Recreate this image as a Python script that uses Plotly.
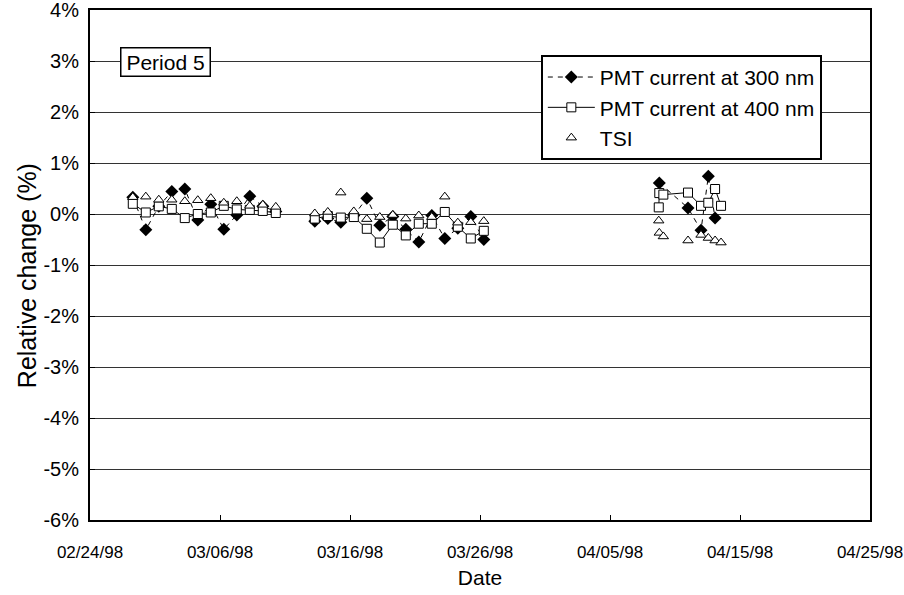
import plotly.graph_objects as go

# ---- data ----
c1_dates = ["1998-02-27 07:00", "1998-02-28 07:00", "1998-03-01 07:00", "1998-03-02 07:00",
            "1998-03-03 07:00", "1998-03-04 07:00", "1998-03-05 07:00", "1998-03-06 07:00",
            "1998-03-07 07:00", "1998-03-08 07:00", "1998-03-09 07:00", "1998-03-10 07:00"]
c1_pmt300 = [0.33, -0.31, 0.15, 0.44, 0.49, -0.12, 0.19, -0.30, -0.02, 0.35, 0.15, 0.05]
c1_pmt400 = [0.20, 0.03, 0.15, 0.10, -0.08, 0.00, 0.03, 0.16, 0.09, 0.08, 0.06, 0.02]
c1_tsi = [0.33, 0.34, 0.28, 0.28, 0.25, 0.27, 0.31, 0.22, 0.25, 0.16, 0.18, 0.14]

c2_dates = ["1998-03-13 07:00", "1998-03-14 07:00", "1998-03-15 07:00", "1998-03-16 07:00",
            "1998-03-17 07:00", "1998-03-18 07:00", "1998-03-19 07:00", "1998-03-20 07:00",
            "1998-03-21 07:00", "1998-03-22 07:00", "1998-03-23 07:00", "1998-03-24 07:00",
            "1998-03-25 07:00", "1998-03-26 07:00"]
c2_pmt300 = [-0.14, -0.09, -0.16, -0.03, 0.31, -0.22, -0.05, -0.30, -0.55, -0.03, -0.48, -0.28, -0.05, -0.50]
c2_pmt400 = [-0.09, -0.04, -0.07, -0.06, -0.29, -0.56, -0.21, -0.42, -0.19, -0.19, 0.04, -0.25, -0.48, -0.33]
c2_tsi = [0.01, 0.04, 0.42, 0.05, -0.10, -0.06, -0.02, -0.09, -0.03, -0.06, 0.34, -0.17, -0.16, -0.14]

c3_dates = ["1998-04-08 18:00", "1998-04-08 19:00", "1998-04-09 02:30", "1998-04-11 00:00",
            "1998-04-12 00:00", "1998-04-12 13:30", "1998-04-13 02:00", "1998-04-13 13:00"]
c3_pmt300 = [None, 0.61, None, 0.12, -0.32, 0.74, -0.08, None]
c3_pmt400 = [0.13, 0.41, 0.38, 0.42, 0.16, 0.22, 0.49, 0.16]
c3_tsi = [-0.13, -0.37, -0.44, -0.52, -0.41, -0.47, -0.52, -0.56]

y_ticks = [4, 3, 2, 1, 0, -1, -2, -3, -4, -5, -6]
y_ticktext = [f"{v}%" for v in y_ticks]
x_ticks = ["1998-02-24", "1998-03-06", "1998-03-16", "1998-03-26", "1998-04-05", "1998-04-15", "1998-04-25"]
x_ticktext = ["02/24/98", "03/06/98", "03/16/98", "03/26/98", "04/05/98", "04/15/98", "04/25/98"]


def join_clusters(clusters):
    xs, ys = [], []
    for i, (d, v) in enumerate(clusters):
        if i > 0:
            xs.append(None)
            ys.append(None)
        for di, vi in zip(d, v):
            if vi is not None:
                xs.append(di)
                ys.append(vi)
    return xs, ys


x300, y300 = join_clusters([(c1_dates, c1_pmt300), (c2_dates, c2_pmt300), (c3_dates, c3_pmt300)])
x400, y400 = join_clusters([(c1_dates, c1_pmt400), (c2_dates, c2_pmt400), (c3_dates, c3_pmt400)])
xtsi, ytsi = join_clusters([(c1_dates, c1_tsi), (c2_dates, c2_tsi), (c3_dates, c3_tsi)])

FONT = "Liberation Sans, Arial, sans-serif"

fig = go.Figure()
fig.add_trace(go.Scatter(
    x=x300, y=y300, name="PMT current at 300 nm", mode="lines+markers",
    line=dict(color="black", width=1, dash="5px,5px"),
    marker=dict(symbol="diamond", size=10, color="black"),
    connectgaps=False))
fig.add_trace(go.Scatter(
    x=x400, y=y400, name="PMT current at 400 nm", mode="lines+markers",
    line=dict(color="black", width=1),
    marker=dict(symbol="square", size=9, color="white", line=dict(color="black", width=1)),
    connectgaps=False))
fig.add_trace(go.Scatter(
    x=xtsi, y=ytsi, name="TSI", mode="markers",
    marker=dict(symbol="triangle-up", size=9, color="white", line=dict(color="black", width=1))))

fig.update_layout(
    width=904, height=595,
    margin=dict(l=90, r=34, t=10, b=75),
    paper_bgcolor="white", plot_bgcolor="white",
    font=dict(family=FONT, color="black", size=20),
    showlegend=True,
    legend=dict(x=0.578, y=0.912, xanchor="left", yanchor="top",
                bgcolor="white", bordercolor="black", borderwidth=2,
                font=dict(size=21, family=FONT), tracegroupgap=0,
                itemwidth=47),
    xaxis=dict(
        type="date", range=["1998-02-24", "1998-04-25"],
        tickvals=x_ticks, ticktext=x_ticktext,
        ticks="inside", ticklen=5, tickcolor="black", tickwidth=1,
        showgrid=False, zeroline=False, automargin=False,
        showline=True, linecolor="black", linewidth=2, mirror=True,
        tickfont=dict(size=17, family=FONT),
        ticklabelstandoff=16, ticklabeloverflow="allow",
        title=dict(text="Date", font=dict(size=21, family=FONT), standoff=9),
    ),
    yaxis=dict(
        range=[-6, 4], tickvals=y_ticks, ticktext=y_ticktext,
        ticks="inside", ticklen=5, tickcolor="black", tickwidth=1,
        showgrid=True, gridcolor="#333333", gridwidth=1,
        zeroline=False, automargin=False,
        showline=True, linecolor="black", linewidth=2, mirror=True,
        tickfont=dict(size=20, family=FONT),
        ticklabelstandoff=5, ticklabeloverflow="allow",
    ),
)

fig.add_annotation(
    x=-0.0808, y=0.48, xref="paper", yref="paper", text="Relative change (%)",
    textangle=-90, xanchor="center", yanchor="middle", showarrow=False,
    font=dict(size=25, family=FONT, color="black"),
)

fig.add_annotation(
    x=0.0974, y=0.899, xref="paper", yref="paper", text="Period 5",
    xanchor="center", yanchor="middle",
    showarrow=False, font=dict(size=21, family=FONT, color="black"),
    bgcolor="white", bordercolor="black", borderwidth=1.5, borderpad=1,
    width=86, height=25,
)

fig.write_html("out.html")
